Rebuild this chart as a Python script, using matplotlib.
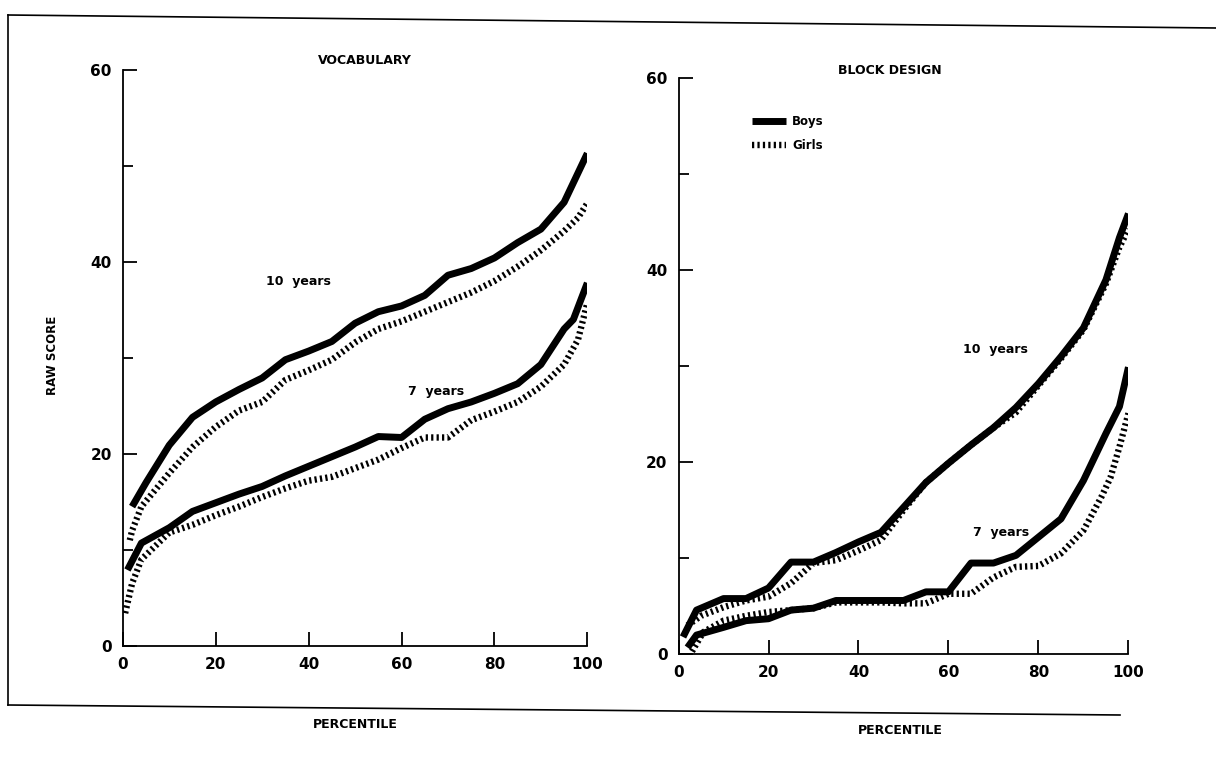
import matplotlib.pyplot as plt
from matplotlib.lines import Line2D

# Percentile points and raw scores
voc_boys10_x = [2, 5, 10, 15, 20, 25, 30, 35, 40, 45, 50, 55, 60, 65, 70, 75, 80, 85, 90, 95, 100]
voc_boys10_y = [14.5, 17, 20.9, 23.8, 25.4, 26.7, 27.9, 29.8, 30.7, 31.7, 33.6, 34.8, 35.4, 36.5, 38.6, 39.3, 40.4, 42.0, 43.4, 46.2, 51.3]
voc_girls10_x = [1.5, 2, 4, 10, 15, 20, 25, 30, 35, 40, 45, 50, 55, 60, 65, 70, 75, 80, 85, 90, 95, 98, 100]
voc_girls10_y = [11, 12, 14.5, 18, 20.7, 22.8, 24.5, 25.4, 27.7, 28.7, 29.8, 31.6, 33.0, 33.8, 34.8, 35.8, 36.8, 38.0, 39.5, 41.2, 43.2, 44.6, 46.1]
voc_boys7_x = [1, 4, 10, 15, 20, 25, 30, 35, 40, 45, 50, 55, 60, 65, 70, 75, 80, 85, 90, 95, 97, 100]
voc_boys7_y = [7.9, 10.7, 12.3, 14.0, 14.9, 15.8, 16.6, 17.7, 18.7, 19.7, 20.7, 21.8, 21.7, 23.6, 24.7, 25.4, 26.3, 27.3, 29.3, 33.0, 34.0, 37.8]
voc_girls7_x = [0.5, 2, 4, 10, 15, 20, 25, 30, 35, 40, 45, 50, 55, 60, 65, 70, 75, 80, 85, 90, 95, 98, 100]
voc_girls7_y = [3.4, 6.5, 9.0, 11.8, 12.6, 13.6, 14.5, 15.5, 16.4, 17.2, 17.6, 18.5, 19.4, 20.6, 21.7, 21.7, 23.5, 24.4, 25.4, 27.0, 29.3, 31.9, 35.7]

blk_boys10_x = [1, 4, 10, 15, 20, 25, 30, 35, 40, 45, 50, 55, 60, 65, 70, 75, 80, 85, 90, 95, 98, 100]
blk_boys10_y = [1.8, 4.6, 5.8, 5.8, 6.9, 9.6, 9.6, 10.6, 11.7, 12.7, 15.3, 17.9, 19.9, 21.8, 23.6, 25.7, 28.2, 31.0, 34.0, 39.0, 43.4, 45.9]
blk_girls10_x = [2, 5, 10, 15, 20, 25, 30, 35, 40, 45, 50, 55, 60, 65, 70, 75, 80, 85, 90, 95, 98, 100]
blk_girls10_y = [3.0, 4.0, 4.9, 5.6, 6.0, 7.4, 9.5, 9.8, 10.8, 11.9, 15.0, 17.9, 19.9, 21.8, 23.6, 25.2, 28.0, 30.8, 33.8, 38.6, 42.4, 44.3]
blk_boys7_x = [2, 4, 10, 15, 20, 25, 30, 35, 40, 45, 50, 55, 60, 65, 70, 75, 80, 85, 90, 95, 98, 100]
blk_boys7_y = [0.7, 2.0, 2.8, 3.5, 3.7, 4.6, 4.8, 5.6, 5.6, 5.6, 5.6, 6.5, 6.5, 9.5, 9.5, 10.3, 12.2, 14.1, 18.1, 23.0, 25.8, 29.9]
blk_girls7_x = [3, 5.5, 10, 15, 20, 25, 30, 35, 40, 45, 50, 55, 60, 65, 70, 75, 80, 85, 90, 94, 96, 98, 100]
blk_girls7_y = [0.3, 2.3, 3.5, 4.0, 4.4, 4.6, 4.8, 5.4, 5.4, 5.4, 5.3, 5.3, 6.3, 6.3, 8.0, 9.1, 9.2, 10.5, 12.9, 16.4, 18.4, 21.6, 25.1]

x_ticks = [0, 20, 40, 60, 80, 100]
y_ticks = [0, 20, 40, 60]
y_minor = [10, 30, 50]

boy_style = dict(color='black', lw=5, solid_capstyle='butt', solid_joinstyle='round')
girl_style = dict(color='black', lw=4.6, ls=(0, (0.35, 0.5)), dash_capstyle='butt')

fig = plt.figure(figsize=(12.16, 7.67), dpi=100)
ax1 = fig.add_axes([0.101, 0.158, 0.382, 0.751])
ax2 = fig.add_axes([0.558, 0.147, 0.370, 0.751])

font = dict(family='DejaVu Sans', weight='bold')


def style_axes(ax):
    ax.set_xlim(0, 100)
    ax.set_ylim(0, 60)
    for s in ['top', 'right']:
        ax.spines[s].set_visible(False)
    for s in ['left', 'bottom']:
        ax.spines[s].set_linewidth(1.3)
    ax.set_xticks(x_ticks)
    ax.set_yticks(y_ticks)
    ax.set_yticks(y_minor, minor=True)
    ax.tick_params(direction='in', length=10, width=1.3, labelsize=11, pad=8)
    ax.tick_params(which='minor', direction='in', length=7, width=1.3)
    for lab in ax.get_xticklabels() + ax.get_yticklabels():
        lab.set_fontweight('bold')


style_axes(ax1)
style_axes(ax2)

ax1.plot(voc_boys10_x, voc_boys10_y, **boy_style)
ax1.plot(voc_girls10_x, voc_girls10_y, **girl_style)
ax1.plot(voc_boys7_x, voc_boys7_y, **boy_style)
ax1.plot(voc_girls7_x, voc_girls7_y, **girl_style)

ax2.plot(blk_boys10_x, blk_boys10_y, **boy_style)
ax2.plot(blk_girls10_x, blk_girls10_y, **girl_style)
ax2.plot(blk_boys7_x, blk_boys7_y, **boy_style)
ax2.plot(blk_girls7_x, blk_girls7_y, **girl_style)

ax1.text(37.8, 37.9, '10  years', ha='center', va='center', fontsize=9, **font)
ax1.text(67.4, 26.5, '7  years', ha='center', va='center', fontsize=9, **font)
ax2.text(70.4, 31.7, '10  years', ha='center', va='center', fontsize=9, **font)
ax2.text(71.6, 12.7, '7  years', ha='center', va='center', fontsize=9, **font)

# titles and axis labels placed like the original drawing
fig.text(365 / 1216, 1 - 60 / 767, 'VOCABULARY', ha='center', va='center', fontsize=9, **font)
fig.text(890 / 1216, 1 - 70 / 767, 'BLOCK DESIGN', ha='center', va='center', fontsize=9, **font)
fig.text(52 / 1216, 1 - 355 / 767, 'RAW SCORE', ha='center', va='center', rotation=90, fontsize=8.5, **font)
fig.text(355 / 1216, 1 - 725 / 767, 'PERCENTILE', ha='center', va='center', fontsize=9, **font)
fig.text(900 / 1216, 1 - 730 / 767, 'PERCENTILE', ha='center', va='center', fontsize=9, **font)

handles = [Line2D([], [], **boy_style), Line2D([], [], **girl_style)]
leg = ax2.legend(handles, ['Boys', 'Girls'], loc='upper left', bbox_to_anchor=(0.14, 0.955),
                 frameon=False, handlelength=2.9, handletextpad=0.5, labelspacing=0.95,
                 prop=dict(family='DejaVu Sans', weight='bold', size=8.5))

# outer frame of the original plate
fig.add_artist(Line2D([8 / 1216, 1.0], [1 - 15 / 767, 1 - 28 / 767], color='black', lw=1.2))
fig.add_artist(Line2D([8 / 1216, 8 / 1216], [1 - 15 / 767, 1 - 705 / 767], color='black', lw=1.2))
fig.add_artist(Line2D([8 / 1216, 1120 / 1216], [1 - 705 / 767, 1 - 715 / 767], color='black', lw=1.2))

fig.savefig('out.png', dpi=100)
